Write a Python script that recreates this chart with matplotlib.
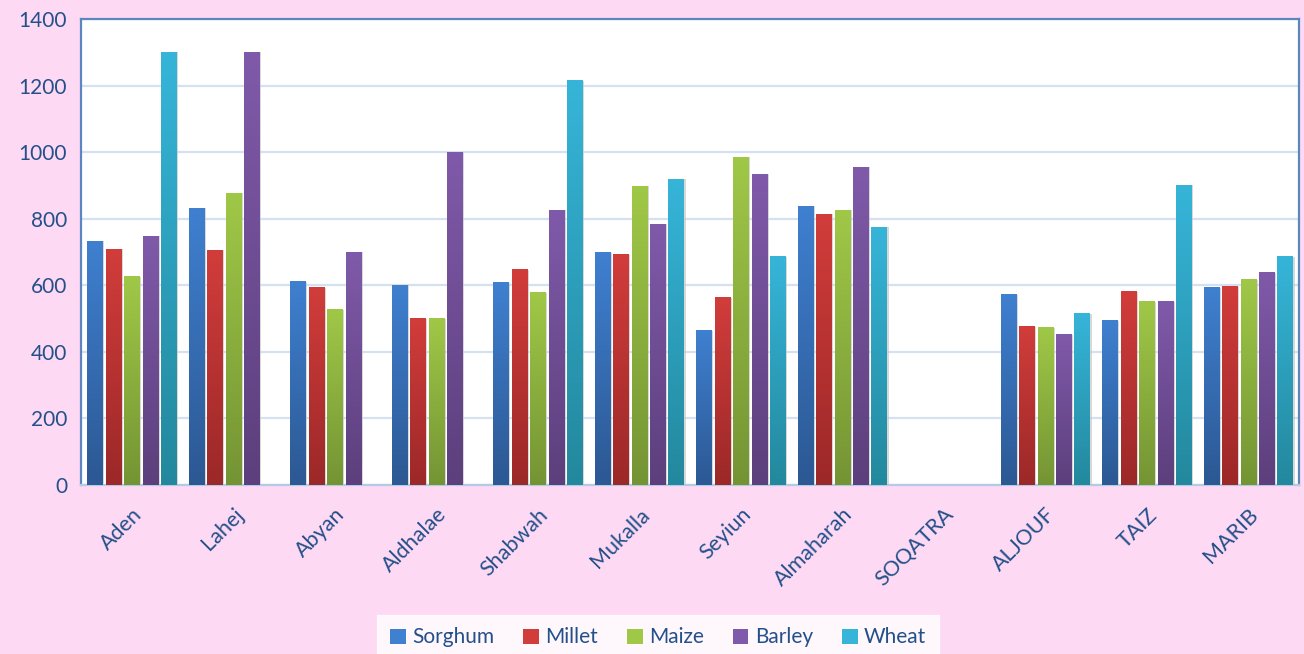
import numpy as np
import matplotlib
matplotlib.use('Agg')
import matplotlib.pyplot as plt
from matplotlib.colors import LinearSegmentedColormap
from matplotlib.patches import Patch

# data
regions = ['Aden', 'Lahej', 'Abyan', 'Aldhalae', 'Shabwah', 'Mukalla', 'Seyiun',
           'Almaharah', 'SOQATRA', 'ALJOUF', 'TAIZ', 'MARIB']
crops = ['Sorghum', 'Millet', 'Maize', 'Barley', 'Wheat']
sorghum = [733, 832, 610, 600, 607, 697, 463, 838, 0, 571, 493, 592]
millet = [709, 706, 592, 500, 646, 691, 562, 814, 0, 475, 580, 595]
maize = [625, 877, 526, 500, 577, 898, 985, 826, 0, 472, 550, 616]
barley = [748, 1300, 700, 1000, 826, 784, 934, 955, 0, 451, 550, 637]
wheat = [1300, 0, 0, 0, 1214, 919, 685, 775, 0, 514, 900, 685]
yticks = [0, 200, 400, 600, 800, 1000, 1200, 1400]

series = [sorghum, millet, maize, barley, wheat]
# (top colour, bottom colour) for the vertical gradient
grads = [('#3F80D0', '#2C5893'),
         ('#D13D3B', '#9C2828'),
         ('#A0C847', '#749434'),
         ('#805AAA', '#5C3F7C'),
         ('#36B5D9', '#23889D')]
text_col = '#24508A'
bg = '#FDD9F3'

plt.rcParams['font.family'] = ['Lato', 'DejaVu Sans']

fig = plt.figure(figsize=(13.04, 6.54), dpi=100, facecolor=bg)
ax = fig.add_axes([81/1304, 169/654, 1218/1304, 466/654])
ax.set_facecolor('white')

x = np.arange(len(regions))
pitch = 0.182
width = 0.152
grad = np.linspace(1, 0, 256).reshape(-1, 1)

for i, (vals, (top, bot)) in enumerate(zip(series, grads)):
    cmap = LinearSegmentedColormap.from_list(crops[i], [bot, top])
    pos = x + (i - 2) * pitch
    # soft shadow to the right of each bar
    ax.bar(pos + 0.018, vals, width=width, color='#C8C8C8', alpha=0.7,
           zorder=2, linewidth=0)
    bars = ax.bar(pos, vals, width=width, color=top, zorder=3, linewidth=0)
    for b in bars:
        h = b.get_height()
        if h <= 0:
            continue
        x0 = b.get_x()
        ax.imshow(grad, extent=[x0, x0 + b.get_width(), 0, h], aspect='auto',
                  cmap=cmap, vmin=0, vmax=1, zorder=4, interpolation='bilinear')

ax.set_xlim(-0.5, len(regions) - 0.5)
ax.set_ylim(0, 1400)
ax.set_yticks(yticks)
ax.set_yticklabels([str(t) for t in yticks], fontsize=15, color=text_col)
ax.tick_params(axis='y', length=0, pad=10)
ax.set_xticks(x)
ax.set_xticklabels(regions, rotation=45, ha='right', rotation_mode='anchor',
                   fontsize=15.5, color=text_col)
ax.tick_params(axis='x', length=0, pad=14)
ax.yaxis.grid(True, color='#D5E1F0', linewidth=1.6, zorder=0)
ax.set_axisbelow(True)

for side in ['top', 'left', 'right']:
    ax.spines[side].set_color('#5B87C0')
    ax.spines[side].set_linewidth(1.6)
ax.spines['bottom'].set_color('#B4CBE6')
ax.spines['bottom'].set_linewidth(1.6)

handles = [Patch(facecolor=g[0], edgecolor='none') for g in grads]
leg = fig.legend(handles, crops, loc='lower center', bbox_to_anchor=(658/1304, -0.025),
                 ncol=5, frameon=True, fancybox=False, fontsize=15,
                 handlelength=0.75, handleheight=0.75, handletextpad=0.3,
                 columnspacing=1.4, borderpad=0.6)
leg.get_frame().set_facecolor('white')
leg.get_frame().set_edgecolor('white')
for t in leg.get_texts():
    t.set_color(text_col)

fig.savefig('out.png', dpi=100, facecolor=bg)
